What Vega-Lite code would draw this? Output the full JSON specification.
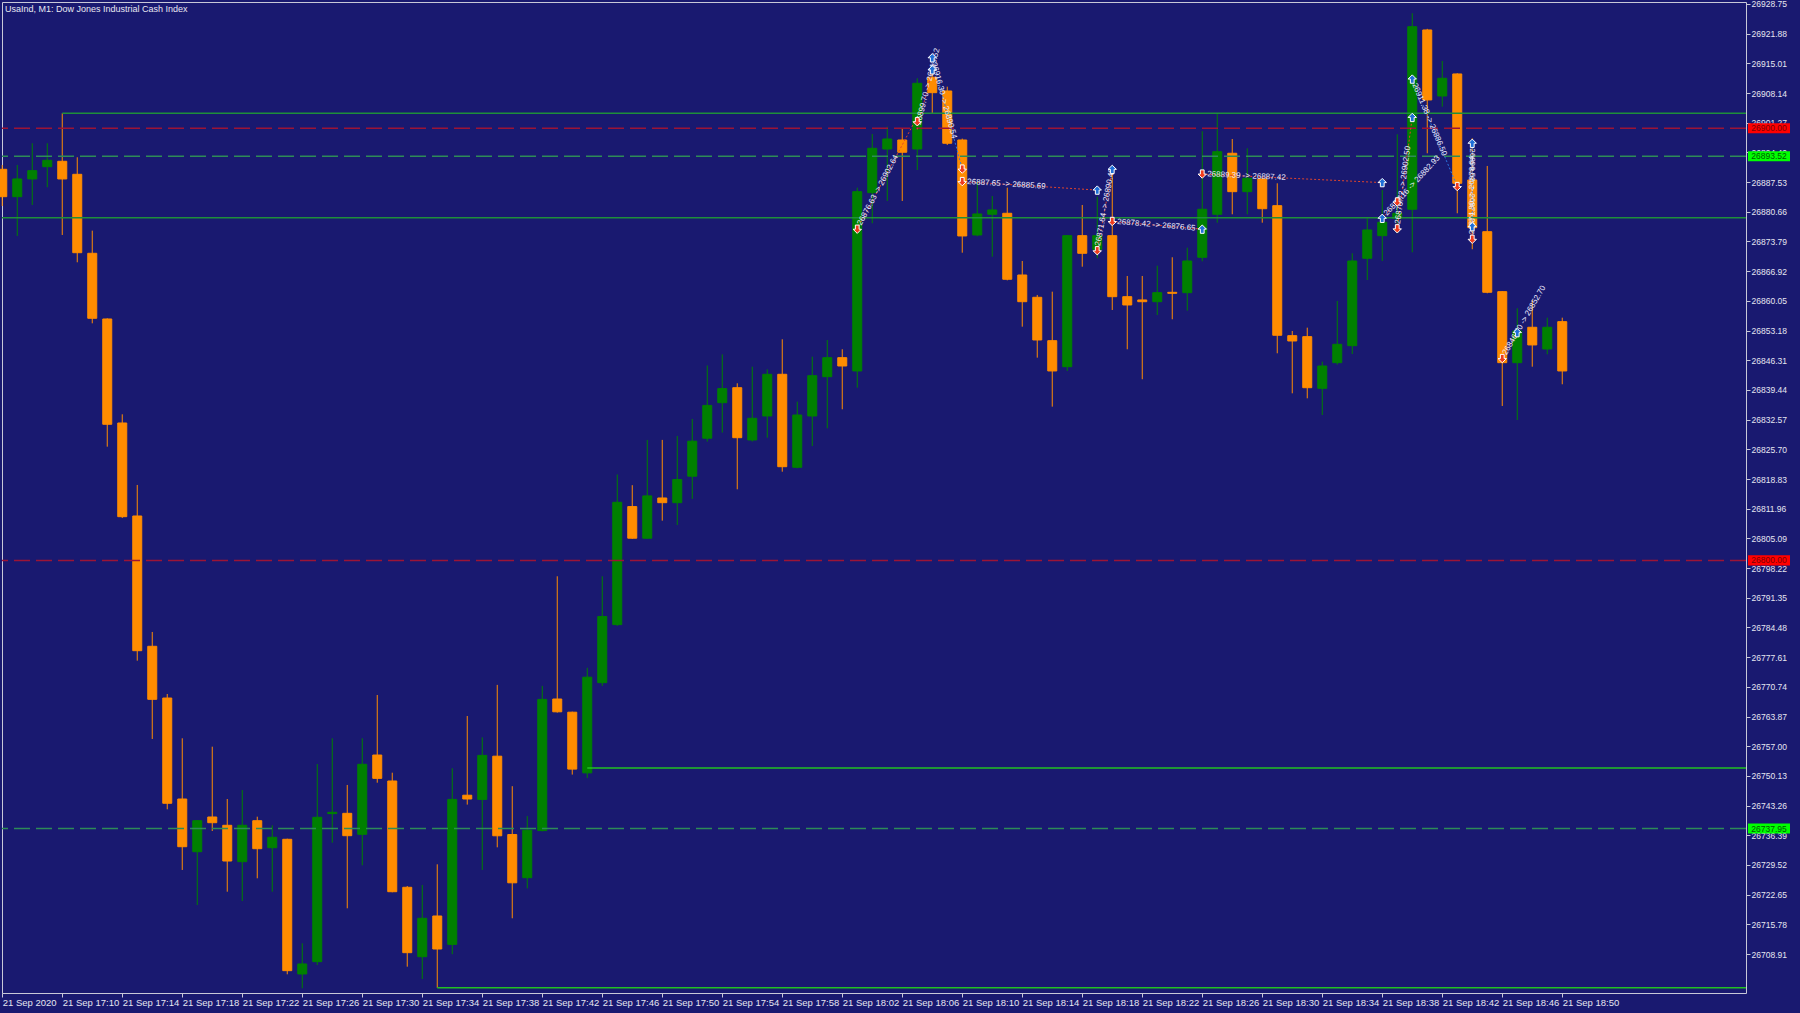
{
  "$schema": "https://vega.github.io/schema/vega-lite/v6.json",
  "width": 1744,
  "height": 991,
  "autosize": {"type": "none"},
  "padding": {"left": 2, "top": 2, "right": 54, "bottom": 20},
  "background": "#191970",
  "config": {
    "view": {"stroke": "#c8c8d8", "strokeWidth": 1, "fill": "#191970"},
    "font": "Liberation Sans",
    "scale": {"continuousPadding": 0},
    "axis": {"grid": false, "domain": false, "title": null, "tickColor": "#c8c8d8", "tickSize": 4, "labelColor": "#e6e6f0", "labelFont": "Liberation Sans", "labelOverlap": false}
  },
  "title": {"text": "UsaInd, M1:  Dow Jones Industrial Cash Index", "anchor": "start", "frame": "group", "offset": -14, "dx": 3, "fontSize": 9, "fontWeight": "normal", "color": "#e8e8f0", "font": "Liberation Sans"},
  "layer": [
    {
      "data": {
        "values": [
          {"t": "17:06", "o": 26890.50, "h": 26891.50, "l": 26882.00, "c": 26884.16},
          {"t": "17:07", "o": 26884.16, "h": 26891.50, "l": 26875.07, "c": 26888.26},
          {"t": "17:08", "o": 26888.26, "h": 26896.52, "l": 26882.24, "c": 26890.18},
          {"t": "17:09", "o": 26891.10, "h": 26896.52, "l": 26886.34, "c": 26892.58},
          {"t": "17:10", "o": 26892.35, "h": 26903.46, "l": 26875.30, "c": 26888.26},
          {"t": "17:11", "o": 26889.34, "h": 26893.28, "l": 26868.98, "c": 26871.20},
          {"t": "17:12", "o": 26871.06, "h": 26876.30, "l": 26854.86, "c": 26856.02},
          {"t": "17:13", "o": 26855.86, "h": 26856.02, "l": 26826.31, "c": 26831.49},
          {"t": "17:14", "o": 26831.79, "h": 26833.80, "l": 26809.80, "c": 26810.11},
          {"t": "17:15", "o": 26810.27, "h": 26817.45, "l": 26776.79, "c": 26779.10},
          {"t": "17:16", "o": 26780.12, "h": 26783.43, "l": 26758.67, "c": 26767.85},
          {"t": "17:17", "o": 26768.15, "h": 26769.08, "l": 26742.40, "c": 26743.79},
          {"t": "17:18", "o": 26744.78, "h": 26758.83, "l": 26728.36, "c": 26733.74},
          {"t": "17:19", "o": 26732.58, "h": 26739.92, "l": 26720.25, "c": 26739.76},
          {"t": "17:20", "o": 26740.62, "h": 26756.89, "l": 26737.38, "c": 26739.30},
          {"t": "17:21", "o": 26738.70, "h": 26744.78, "l": 26723.33, "c": 26730.43},
          {"t": "17:22", "o": 26730.28, "h": 26746.86, "l": 26721.17, "c": 26738.70},
          {"t": "17:23", "o": 26739.76, "h": 26740.69, "l": 26726.43, "c": 26733.28},
          {"t": "17:24", "o": 26733.51, "h": 26738.70, "l": 26723.33, "c": 26735.92},
          {"t": "17:25", "o": 26735.46, "h": 26735.60, "l": 26704.22, "c": 26705.06},
          {"t": "17:26", "o": 26704.29, "h": 26711.39, "l": 26700.98, "c": 26706.61},
          {"t": "17:27", "o": 26707.14, "h": 26752.88, "l": 26706.37, "c": 26740.55},
          {"t": "17:28", "o": 26741.40, "h": 26758.83, "l": 26734.67, "c": 26741.70},
          {"t": "17:29", "o": 26741.47, "h": 26748.03, "l": 26719.49, "c": 26736.29},
          {"t": "17:30", "o": 26736.61, "h": 26758.83, "l": 26729.44, "c": 26752.81},
          {"t": "17:31", "o": 26754.96, "h": 26768.85, "l": 26748.55, "c": 26749.56},
          {"t": "17:32", "o": 26748.95, "h": 26750.87, "l": 26723.20, "c": 26723.33},
          {"t": "17:33", "o": 26724.35, "h": 26724.65, "l": 26705.98, "c": 26709.22},
          {"t": "17:34", "o": 26708.29, "h": 26724.89, "l": 26703.13, "c": 26717.18},
          {"t": "17:35", "o": 26717.71, "h": 26729.67, "l": 26701.10, "c": 26710.07},
          {"t": "17:36", "o": 26711.14, "h": 26751.90, "l": 26708.87, "c": 26744.69},
          {"t": "17:37", "o": 26745.66, "h": 26763.99, "l": 26743.49, "c": 26744.78},
          {"t": "17:38", "o": 26744.69, "h": 26759.04, "l": 26728.36, "c": 26754.87},
          {"t": "17:39", "o": 26754.69, "h": 26771.19, "l": 26733.60, "c": 26736.27},
          {"t": "17:40", "o": 26736.56, "h": 26747.75, "l": 26717.18, "c": 26725.39},
          {"t": "17:41", "o": 26726.57, "h": 26740.83, "l": 26724.10, "c": 26737.56},
          {"t": "17:42", "o": 26737.47, "h": 26770.96, "l": 26737.30, "c": 26767.83},
          {"t": "17:43", "o": 26767.92, "h": 26796.32, "l": 26764.77, "c": 26764.96},
          {"t": "17:44", "o": 26764.87, "h": 26765.00, "l": 26750.43, "c": 26751.70},
          {"t": "17:45", "o": 26750.83, "h": 26775.15, "l": 26749.65, "c": 26772.97},
          {"t": "17:46", "o": 26771.70, "h": 26796.32, "l": 26770.96, "c": 26787.02},
          {"t": "17:47", "o": 26785.14, "h": 26819.88, "l": 26784.84, "c": 26813.44},
          {"t": "17:48", "o": 26812.45, "h": 26817.40, "l": 26805.00, "c": 26805.13},
          {"t": "17:49", "o": 26805.13, "h": 26827.88, "l": 26805.00, "c": 26814.92},
          {"t": "17:50", "o": 26814.44, "h": 26827.88, "l": 26809.19, "c": 26813.35},
          {"t": "17:51", "o": 26813.35, "h": 26828.79, "l": 26808.19, "c": 26818.70},
          {"t": "17:52", "o": 26819.48, "h": 26832.74, "l": 26814.23, "c": 26827.58},
          {"t": "17:53", "o": 26828.27, "h": 26845.10, "l": 26827.49, "c": 26835.86},
          {"t": "17:54", "o": 26836.49, "h": 26847.67, "l": 26829.57, "c": 26839.75},
          {"t": "17:55", "o": 26839.96, "h": 26840.98, "l": 26816.45, "c": 26828.39},
          {"t": "17:56", "o": 26827.86, "h": 26844.82, "l": 26827.50, "c": 26832.88},
          {"t": "17:57", "o": 26833.41, "h": 26844.22, "l": 26828.39, "c": 26843.06},
          {"t": "17:58", "o": 26843.06, "h": 26851.16, "l": 26820.52, "c": 26821.68},
          {"t": "17:59", "o": 26821.54, "h": 26836.72, "l": 26821.30, "c": 26833.64},
          {"t": "18:00", "o": 26833.41, "h": 26847.14, "l": 26826.47, "c": 26842.74},
          {"t": "18:01", "o": 26842.51, "h": 26851.00, "l": 26830.57, "c": 26846.91},
          {"t": "18:02", "o": 26846.91, "h": 26848.85, "l": 26834.96, "c": 26844.98},
          {"t": "18:03", "o": 26843.83, "h": 26886.25, "l": 26839.96, "c": 26885.32},
          {"t": "18:04", "o": 26885.09, "h": 26898.67, "l": 26878.01, "c": 26895.36},
          {"t": "18:05", "o": 26895.19, "h": 26900.36, "l": 26883.17, "c": 26897.51},
          {"t": "18:06", "o": 26897.28, "h": 26899.99, "l": 26883.17, "c": 26894.44},
          {"t": "18:07", "o": 26895.20, "h": 26911.56, "l": 26890.34, "c": 26910.40},
          {"t": "18:08", "o": 26911.79, "h": 26914.40, "l": 26903.46, "c": 26908.23},
          {"t": "18:09", "o": 26908.62, "h": 26909.62, "l": 26896.13, "c": 26896.52},
          {"t": "18:10", "o": 26897.28, "h": 26897.60, "l": 26871.20, "c": 26875.07},
          {"t": "18:11", "o": 26875.30, "h": 26887.63, "l": 26875.00, "c": 26880.16},
          {"t": "18:12", "o": 26880.09, "h": 26884.32, "l": 26870.28, "c": 26881.09},
          {"t": "18:13", "o": 26880.32, "h": 26886.25, "l": 26864.80, "c": 26865.05},
          {"t": "18:14", "o": 26866.04, "h": 26869.28, "l": 26854.08, "c": 26859.86},
          {"t": "18:15", "o": 26860.88, "h": 26861.42, "l": 26846.91, "c": 26851.00},
          {"t": "18:16", "o": 26850.84, "h": 26862.18, "l": 26835.57, "c": 26843.83},
          {"t": "18:17", "o": 26844.82, "h": 26875.30, "l": 26843.83, "c": 26875.14},
          {"t": "18:18", "o": 26875.14, "h": 26882.24, "l": 26867.96, "c": 26871.06},
          {"t": "18:19", "o": 26871.99, "h": 26884.17, "l": 26869.91, "c": 26875.14},
          {"t": "18:20", "o": 26875.14, "h": 26891.27, "l": 26857.94, "c": 26861.02},
          {"t": "18:21", "o": 26861.02, "h": 26865.81, "l": 26848.85, "c": 26859.10},
          {"t": "18:22", "o": 26860.26, "h": 26865.81, "l": 26841.91, "c": 26859.86},
          {"t": "18:23", "o": 26859.86, "h": 26868.19, "l": 26856.79, "c": 26861.95},
          {"t": "18:24", "o": 26862.03, "h": 26870.14, "l": 26855.79, "c": 26861.80},
          {"t": "18:25", "o": 26861.95, "h": 26872.36, "l": 26857.78, "c": 26869.28},
          {"t": "18:26", "o": 26870.14, "h": 26899.30, "l": 26869.20, "c": 26881.25},
          {"t": "18:27", "o": 26880.09, "h": 26903.46, "l": 26878.14, "c": 26894.57},
          {"t": "18:28", "o": 26894.21, "h": 26897.51, "l": 26880.09, "c": 26885.32},
          {"t": "18:29", "o": 26885.32, "h": 26895.36, "l": 26880.09, "c": 26888.42},
          {"t": "18:30", "o": 26888.26, "h": 26888.40, "l": 26878.14, "c": 26881.38},
          {"t": "18:31", "o": 26882.08, "h": 26887.26, "l": 26847.92, "c": 26852.09},
          {"t": "18:32", "o": 26852.00, "h": 26853.08, "l": 26838.66, "c": 26850.77},
          {"t": "18:33", "o": 26851.77, "h": 26853.85, "l": 26837.50, "c": 26839.96},
          {"t": "18:34", "o": 26839.82, "h": 26845.98, "l": 26833.64, "c": 26844.98},
          {"t": "18:35", "o": 26845.75, "h": 26860.03, "l": 26845.30, "c": 26850.00},
          {"t": "18:36", "o": 26849.68, "h": 26871.06, "l": 26847.76, "c": 26869.28},
          {"t": "18:37", "o": 26869.91, "h": 26879.16, "l": 26864.88, "c": 26876.46},
          {"t": "18:38", "o": 26875.14, "h": 26885.71, "l": 26869.28, "c": 26878.24},
          {"t": "18:39", "o": 26879.16, "h": 26898.60, "l": 26875.69, "c": 26880.32},
          {"t": "18:40", "o": 26881.25, "h": 26926.60, "l": 26871.29, "c": 26923.50},
          {"t": "18:41", "o": 26922.74, "h": 26923.00, "l": 26894.20, "c": 26906.54},
          {"t": "18:42", "o": 26907.46, "h": 26915.56, "l": 26905.00, "c": 26911.56},
          {"t": "18:43", "o": 26912.56, "h": 26912.72, "l": 26880.32, "c": 26887.26},
          {"t": "18:44", "o": 26888.03, "h": 26897.68, "l": 26871.99, "c": 26876.99},
          {"t": "18:45", "o": 26876.06, "h": 26891.27, "l": 26861.81, "c": 26862.04},
          {"t": "18:46", "o": 26862.18, "h": 26862.30, "l": 26835.73, "c": 26845.75},
          {"t": "18:47", "o": 26845.75, "h": 26858.34, "l": 26832.49, "c": 26853.08},
          {"t": "18:48", "o": 26853.94, "h": 26860.26, "l": 26844.82, "c": 26849.85},
          {"t": "18:49", "o": 26848.92, "h": 26856.16, "l": 26847.69, "c": 26853.94},
          {"t": "18:50", "o": 26855.24, "h": 26856.16, "l": 26840.75, "c": 26843.83}
        ],
        "format": {"parse": {"t": "utc:'%H:%M'"}}
      },
      "transform": [{"calculate": "datum.c >= datum.o ? 'up' : 'down'", "as": "dir"}],
      "encoding": {
        "x": {
          "field": "t", "type": "temporal", "title": null,
          "scale": {"type": "utc", "nice": false, "padding": 0, "domain": [
            {"year": 1900, "month": 1, "date": 1, "hours": 17, "minutes": 5, "seconds": 59, "utc": true},
            {"year": 1900, "month": 1, "date": 1, "hours": 19, "minutes": 2, "seconds": 15, "utc": true}
          ]},
          "axis": {
            "orient": "bottom",
            "tickCount": 60,
            "values": [
              {"year": 1900, "month": 1, "date": 1, "hours": 17, "minutes": 6, "utc": true},
              {"year": 1900, "month": 1, "date": 1, "hours": 17, "minutes": 10, "utc": true},
              {"year": 1900, "month": 1, "date": 1, "hours": 17, "minutes": 14, "utc": true},
              {"year": 1900, "month": 1, "date": 1, "hours": 17, "minutes": 18, "utc": true},
              {"year": 1900, "month": 1, "date": 1, "hours": 17, "minutes": 22, "utc": true},
              {"year": 1900, "month": 1, "date": 1, "hours": 17, "minutes": 26, "utc": true},
              {"year": 1900, "month": 1, "date": 1, "hours": 17, "minutes": 30, "utc": true},
              {"year": 1900, "month": 1, "date": 1, "hours": 17, "minutes": 34, "utc": true},
              {"year": 1900, "month": 1, "date": 1, "hours": 17, "minutes": 38, "utc": true},
              {"year": 1900, "month": 1, "date": 1, "hours": 17, "minutes": 42, "utc": true},
              {"year": 1900, "month": 1, "date": 1, "hours": 17, "minutes": 46, "utc": true},
              {"year": 1900, "month": 1, "date": 1, "hours": 17, "minutes": 50, "utc": true},
              {"year": 1900, "month": 1, "date": 1, "hours": 17, "minutes": 54, "utc": true},
              {"year": 1900, "month": 1, "date": 1, "hours": 17, "minutes": 58, "utc": true},
              {"year": 1900, "month": 1, "date": 1, "hours": 18, "minutes": 2, "utc": true},
              {"year": 1900, "month": 1, "date": 1, "hours": 18, "minutes": 6, "utc": true},
              {"year": 1900, "month": 1, "date": 1, "hours": 18, "minutes": 10, "utc": true},
              {"year": 1900, "month": 1, "date": 1, "hours": 18, "minutes": 14, "utc": true},
              {"year": 1900, "month": 1, "date": 1, "hours": 18, "minutes": 18, "utc": true},
              {"year": 1900, "month": 1, "date": 1, "hours": 18, "minutes": 22, "utc": true},
              {"year": 1900, "month": 1, "date": 1, "hours": 18, "minutes": 26, "utc": true},
              {"year": 1900, "month": 1, "date": 1, "hours": 18, "minutes": 30, "utc": true},
              {"year": 1900, "month": 1, "date": 1, "hours": 18, "minutes": 34, "utc": true},
              {"year": 1900, "month": 1, "date": 1, "hours": 18, "minutes": 38, "utc": true},
              {"year": 1900, "month": 1, "date": 1, "hours": 18, "minutes": 42, "utc": true},
              {"year": 1900, "month": 1, "date": 1, "hours": 18, "minutes": 46, "utc": true},
              {"year": 1900, "month": 1, "date": 1, "hours": 18, "minutes": 50, "utc": true}
            ],
            "labelExpr": "utcFormat(datum.value, '%H:%M') == '17:06' ? '21 Sep 2020' : '21 Sep ' + utcFormat(datum.value, '%H:%M')",
            "labelAlign": "left",
            "labelFontSize": 9.5,
            "labelPadding": 0,
            "labelOverlap": false,
            "labelFlush": false,
            "labelBound": false
          }
        },
        "color": {"field": "dir", "type": "nominal", "scale": {"domain": ["up", "down"], "range": ["#008000", "#ff8c00"]}, "legend": null}
      },
      "layer": [
        {
          "mark": {"type": "rule", "strokeWidth": 1},
          "encoding": {
            "y": {
              "field": "l", "type": "quantitative", "title": null,
              "scale": {"domain": [26699.89, 26929.21], "zero": false, "nice": false, "padding": 0},
              "axis": {
                "orient": "right",
                "tickCount": 60,
                "values": [26928.75, 26921.88, 26915.01, 26908.14, 26901.27, 26894.40, 26887.53, 26880.66, 26873.79, 26866.92, 26860.05, 26853.18, 26846.31, 26839.44, 26832.57, 26825.70, 26818.83, 26811.96, 26805.09, 26798.22, 26791.35, 26784.48, 26777.61, 26770.74, 26763.87, 26757.00, 26750.13, 26743.26, 26736.39, 26729.52, 26722.65, 26715.78, 26708.91],
                "format": ".2f",
                "labelFontSize": 8.5,
                "labelPadding": 1,
                "labelAlign": "left",
                "labelOverlap": false,
                "labelBound": false,
                "labelFlush": false
              }
            },
            "y2": {"field": "h"}
          }
        },
        {
          "mark": {"type": "bar", "width": 9, "strokeWidth": 1},
          "encoding": {
            "y": {"field": "o", "type": "quantitative", "title": null},
            "y2": {"field": "c"},
            "stroke": {"field": "dir", "type": "nominal", "scale": {"domain": ["up", "down"], "range": ["#008000", "#ff8c00"]}, "legend": null}
          }
        }
      ]
    },
    {
      "data": {
        "values": [
          {"t": "17:10", "p": 26903.46},
          {"t": "17:00", "p": 26879.30},
          {"t": "17:45", "p": 26751.95},
          {"t": "17:35", "p": 26701.10}
        ],
        "format": {"parse": {"t": "utc:'%H:%M'"}}
      },
      "layer": [
        {
          "transform": [{"filter": "datum.p > 26800"}],
          "mark": {"type": "rule", "color": "#1f8f3a", "strokeWidth": 1.5, "clip": true},
          "encoding": {
            "x": {"field": "t", "type": "temporal", "title": null},
            "x2": {"datum": {"year": 1900, "month": 1, "date": 1, "hours": 19, "minutes": 10, "utc": true}},
            "y": {"field": "p", "type": "quantitative", "title": null}
          }
        },
        {
          "transform": [{"filter": "datum.p < 26800"}],
          "mark": {"type": "rule", "color": "#22c022", "strokeWidth": 1.3, "clip": true},
          "encoding": {
            "x": {"field": "t", "type": "temporal", "title": null},
            "x2": {"datum": {"year": 1900, "month": 1, "date": 1, "hours": 19, "minutes": 10, "utc": true}},
            "y": {"field": "p", "type": "quantitative", "title": null}
          }
        }
      ]
    },
    {
      "data": {
        "values": [
          {"p": 26900.00, "kind": "red"},
          {"p": 26800.00, "kind": "red"},
          {"p": 26893.52, "kind": "green"},
          {"p": 26737.95, "kind": "green"}
        ]
      },
      "layer": [
        {
          "transform": [{"filter": "datum.kind == 'red'"}],
          "mark": {"type": "rule", "color": "#9c1436", "strokeDash": [16, 6], "strokeWidth": 1.5},
          "encoding": {"y": {"field": "p", "type": "quantitative", "title": null}}
        },
        {
          "transform": [{"filter": "datum.kind == 'green'"}],
          "mark": {"type": "rule", "color": "#2e8b57", "strokeDash": [16, 6], "strokeWidth": 1.5},
          "encoding": {"y": {"field": "p", "type": "quantitative", "title": null}}
        },
        {
          "transform": [{"filter": "datum.kind == 'red'"}],
          "mark": {"type": "point", "shape": "M-1,-0.24L1,-0.24L1,0.24L-1,0.24Z", "size": 1764, "filled": true, "color": "#ff0000", "opacity": 1, "strokeWidth": 0},
          "encoding": {
            "x": {"datum": {"year": 1900, "month": 1, "date": 1, "hours": 19, "minutes": 3, "seconds": 47, "utc": true}, "type": "temporal"},
            "y": {"field": "p", "type": "quantitative", "title": null}
          }
        },
        {
          "transform": [{"filter": "datum.kind == 'green'"}],
          "mark": {"type": "point", "shape": "M-1,-0.24L1,-0.24L1,0.24L-1,0.24Z", "size": 1764, "filled": true, "color": "#00ff00", "opacity": 1, "strokeWidth": 0},
          "encoding": {
            "x": {"datum": {"year": 1900, "month": 1, "date": 1, "hours": 19, "minutes": 3, "seconds": 47, "utc": true}, "type": "temporal"},
            "y": {"field": "p", "type": "quantitative", "title": null}
          }
        },
        {
          "transform": [{"filter": "datum.kind == 'red'"}],
          "mark": {"type": "text", "color": "#7a0000", "fontSize": 8.5, "align": "center", "baseline": "middle", "font": "Liberation Sans"},
          "encoding": {
            "x": {"datum": {"year": 1900, "month": 1, "date": 1, "hours": 19, "minutes": 3, "seconds": 47, "utc": true}, "type": "temporal"},
            "y": {"field": "p", "type": "quantitative", "title": null},
            "text": {"field": "p", "type": "quantitative", "format": ".2f"}
          }
        },
        {
          "transform": [{"filter": "datum.kind == 'green'"}],
          "mark": {"type": "text", "color": "#005a00", "fontSize": 8.5, "align": "center", "baseline": "middle", "font": "Liberation Sans"},
          "encoding": {
            "x": {"datum": {"year": 1900, "month": 1, "date": 1, "hours": 19, "minutes": 3, "seconds": 47, "utc": true}, "type": "temporal"},
            "y": {"field": "p", "type": "quantitative", "title": null},
            "text": {"field": "p", "type": "quantitative", "format": ".2f"}
          }
        }
      ]
    },
    {
      "data": {
        "values": [
          {"t": "18:03", "p1": 26876.63, "t2": "18:07", "p2": 26902.64, "side": "sell"},
          {"t": "18:07", "p1": 26899.70, "t2": "18:08", "p2": 26913.52, "side": "sell"},
          {"t": "18:08", "p1": 26916.30, "t2": "18:10", "p2": 26890.54, "side": "buy"},
          {"t": "18:10", "p1": 26887.65, "t2": "18:19", "p2": 26885.69, "side": "sell"},
          {"t": "18:19", "p1": 26871.64, "t2": "18:20", "p2": 26890.48, "side": "sell"},
          {"t": "18:20", "p1": 26878.42, "t2": "18:26", "p2": 26876.65, "side": "sell"},
          {"t": "18:26", "p1": 26889.39, "t2": "18:38", "p2": 26887.42, "side": "sell"},
          {"t": "18:38", "p1": 26879.16, "t2": "18:39", "p2": 26882.93, "side": "sell"},
          {"t": "18:39", "p1": 26876.72, "t2": "18:40", "p2": 26902.50, "side": "sell"},
          {"t": "18:40", "p1": 26911.38, "t2": "18:43", "p2": 26886.50, "side": "buy"},
          {"t": "18:44", "p1": 26874.30, "t2": "18:44", "p2": 26878.64, "side": "sell"},
          {"t": "18:44", "p1": 26896.52, "t2": "18:44", "p2": 26877.22, "side": "buy"},
          {"t": "18:46", "p1": 26846.70, "t2": "18:47", "p2": 26852.70, "side": "sell"}
        ],
        "format": {"parse": {"t": "utc:'%H:%M'", "t2": "utc:'%H:%M'"}}
      },
      "transform": [
        {"calculate": "format(datum.p1, '.2f') + ' -> ' + format(datum.p2, '.2f')", "as": "lab"},
        {"calculate": "atan2(-(datum.p2 - datum.p1) / 0.23141, (time(datum.t2) - time(datum.t)) / 4000) * 180 / PI", "as": "ang"}
      ],
      "layer": [
        {
          "transform": [{"filter": "datum.side == 'sell'"}],
          "mark": {"type": "rule", "color": "#e0442c", "strokeDash": [2, 2], "strokeWidth": 1},
          "encoding": {
            "x": {"field": "t", "type": "temporal", "title": null},
            "x2": {"field": "t2"},
            "y": {"field": "p1", "type": "quantitative", "title": null},
            "y2": {"field": "p2"}
          }
        },
        {
          "transform": [{"filter": "datum.side == 'buy'"}],
          "mark": {"type": "rule", "color": "#2b78e4", "strokeDash": [2, 2], "strokeWidth": 1},
          "encoding": {
            "x": {"field": "t", "type": "temporal", "title": null},
            "x2": {"field": "t2"},
            "y": {"field": "p1", "type": "quantitative", "title": null},
            "y2": {"field": "p2"}
          }
        },
        {
          "mark": {"type": "text", "color": "#ececff", "fontSize": 8, "align": "left", "baseline": "middle", "dx": 5, "font": "Liberation Sans"},
          "encoding": {
            "x": {"field": "t", "type": "temporal", "title": null},
            "y": {"field": "p1", "type": "quantitative", "title": null},
            "text": {"field": "lab"},
            "angle": {"field": "ang", "type": "quantitative", "scale": null}
          }
        }
      ]
    },
    {
      "data": {
        "values": [
          {"t": "18:03", "p": 26876.63, "side": "sell"},
          {"t": "18:07", "p": 26901.50, "side": "sell"},
          {"t": "18:08", "p": 26913.52, "side": "buy"},
          {"t": "18:08", "p": 26916.30, "side": "buy"},
          {"t": "18:10", "p": 26890.54, "side": "sell"},
          {"t": "18:10", "p": 26887.65, "side": "sell"},
          {"t": "18:19", "p": 26885.69, "side": "buy"},
          {"t": "18:19", "p": 26871.64, "side": "sell"},
          {"t": "18:20", "p": 26890.48, "side": "buy"},
          {"t": "18:20", "p": 26878.42, "side": "sell"},
          {"t": "18:26", "p": 26876.65, "side": "buy"},
          {"t": "18:26", "p": 26889.39, "side": "sell"},
          {"t": "18:38", "p": 26887.42, "side": "buy"},
          {"t": "18:38", "p": 26879.16, "side": "buy"},
          {"t": "18:39", "p": 26882.93, "side": "sell"},
          {"t": "18:39", "p": 26876.72, "side": "sell"},
          {"t": "18:40", "p": 26902.50, "side": "buy"},
          {"t": "18:40", "p": 26911.38, "side": "buy"},
          {"t": "18:43", "p": 26886.50, "side": "sell"},
          {"t": "18:44", "p": 26896.52, "side": "buy"},
          {"t": "18:44", "p": 26877.22, "side": "buy"},
          {"t": "18:44", "p": 26874.30, "side": "sell"},
          {"t": "18:46", "p": 26846.70, "side": "sell"},
          {"t": "18:47", "p": 26852.70, "side": "buy"}
        ],
        "format": {"parse": {"t": "utc:'%H:%M'"}}
      },
      "layer": [
        {
          "transform": [{"filter": "datum.side == 'buy'"}],
          "mark": {"type": "point", "shape": "M0,-1L1,0L0.45,0L0.45,1L-0.45,1L-0.45,0L-1,0Z", "size": 70, "filled": true, "fill": "#1e6fd8", "stroke": "#ffffff", "strokeWidth": 1, "opacity": 1},
          "encoding": {
            "x": {"field": "t", "type": "temporal", "title": null},
            "y": {"field": "p", "type": "quantitative", "title": null}
          }
        },
        {
          "transform": [{"filter": "datum.side == 'sell'"}],
          "mark": {"type": "point", "shape": "M0,1L1,0L0.45,0L0.45,-1L-0.45,-1L-0.45,0L-1,0Z", "size": 70, "filled": true, "fill": "#f03c1e", "stroke": "#ffffff", "strokeWidth": 1, "opacity": 1},
          "encoding": {
            "x": {"field": "t", "type": "temporal", "title": null},
            "y": {"field": "p", "type": "quantitative", "title": null}
          }
        }
      ]
    }
  ]
}
